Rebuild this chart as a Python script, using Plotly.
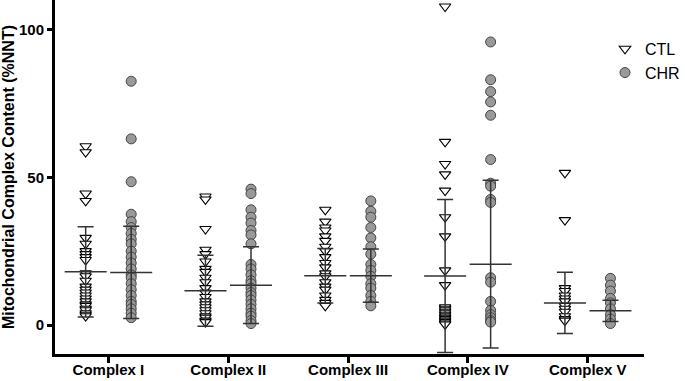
import plotly.graph_objects as go

categories = ["Complex I", "Complex II", "Complex III", "Complex IV", "Complex V"]

ctl_values = [
    [60.5, 58.5, 44.5, 42, 29.5, 27.5, 25, 24, 23, 22, 17.5, 16.5, 15, 13, 12, 11, 10, 9, 8, 7, 6.5, 5.5, 5, 4, 3.5, 3],
    [43.5, 42.5, 32.5, 25.5, 24, 21.5, 19, 18, 16, 14.5, 12.5, 11, 9.5, 8, 7, 6, 5, 4, 3, 2.5, 1.5, 1],
    [39, 35, 33, 32, 30, 28.5, 26.5, 25, 23, 21, 19.5, 17.5, 16.5, 14.5, 13, 12, 10, 8.5, 7.5, 6.5],
    [107.8, 62, 54.5, 51, 45.5, 36.5, 30, 18.5, 13.5, 6, 5.5, 5, 4.5, 4, 3.5, 3, 2.5, 2, 1.5, 1, 0.5, 0.2],
    [51.5, 35.5, 12.5, 11.5, 10, 9, 8, 6.5, 5.5, 4.5, 3, 2, 1.5],
]
chr_values = [
    [82.5, 63, 48.5, 37.5, 35, 33, 31, 29, 27.5, 25, 23, 21, 19, 17, 16, 14, 12, 10, 8, 7, 5.5, 4, 2.5],
    [46, 44.5, 39, 36.5, 34.5, 32, 30.5, 27.5, 20.5, 19, 17, 15, 14, 12.5, 11, 10, 8.5, 7, 5.5, 4, 3, 1.5, 0.5],
    [42, 38.5, 36.5, 33, 29.5, 26.5, 24, 20.5, 18.5, 16.5, 14, 12.5, 10, 8, 6.5],
    [95.8, 83, 79, 75.5, 71, 56, 48, 47, 42.5, 41.5, 16, 14.5, 8, 5, 3.5, 2.5, 1.5, 1],
    [15.8, 13.5, 11.5, 9, 7.5, 5.5, 3.5, 2, 0.5],
]

ctl_mean = [18.0, 11.6, 16.7, 16.6, 7.5]
ctl_sd = [15.3, 12.0, 9.2, 25.9, 10.4]
chr_mean = [17.8, 13.5, 16.7, 20.6, 4.8]
chr_sd = [15.6, 13.0, 9.0, 28.4, 3.6]

group_offset = 0.19
FONT = "Arial, Liberation Sans, sans-serif"

def xs_for(groups, off):
    xs, ys = [], []
    for i, vals in enumerate(groups):
        xs += [i + off] * len(vals)
        ys += vals
    return xs, ys

fig = go.Figure()

x1, y1 = xs_for(ctl_values, -group_offset)
fig.add_trace(go.Scatter(
    x=x1, y=y1, mode="markers", name="CTL", legendgroup="a",
    marker=dict(symbol="triangle-down", size=10, color="white",
                line=dict(color="black", width=1.1)),
    cliponaxis=False,
))
x2, y2 = xs_for(chr_values, group_offset)
fig.add_trace(go.Scatter(
    x=x2, y=y2, mode="markers", name="CHR", legendgroup="b",
    marker=dict(symbol="circle", size=10, color="#999999",
                line=dict(color="#444444", width=1)),
    cliponaxis=False,
))

for means, sds, off in [(ctl_mean, ctl_sd, -group_offset), (chr_mean, chr_sd, group_offset)]:
    fig.add_trace(go.Scatter(
        x=[i + off for i in range(len(categories))], y=means, mode="markers",
        showlegend=False, cliponaxis=False,
        marker=dict(symbol="line-ew", size=30, color="#333333",
                    line=dict(color="#333333", width=1.5)),
        error_y=dict(type="data", array=sds, visible=True, color="#333333",
                     thickness=1.5, width=8),
    ))

fig.update_layout(
    width=685, height=381,
    margin=dict(l=55, r=40, t=0, b=27),
    paper_bgcolor="white", plot_bgcolor="white",
    font=dict(family=FONT, color="black"),
    showlegend=True,
    legend=dict(x=0.934, y=0.91, xanchor="left", yanchor="top",
                font=dict(size=16, family=FONT), tracegroupgap=0,
                bgcolor="rgba(0,0,0,0)"),
    xaxis=dict(range=[-0.446, 4.47], tickmode="array",
               tickvals=list(range(len(categories))), ticktext=categories,
               showline=True, linewidth=3, linecolor="black",
               ticks="outside", ticklen=6, tickwidth=2.5, tickcolor="black",
               showgrid=False, zeroline=False, automargin=False,
               ticklabelstandoff=-6,
               tickfont=dict(size=15, family=FONT, weight="bold")),
    yaxis=dict(range=[-9.8, 110], tickvals=[0, 50, 100],
               showline=True, linewidth=3, linecolor="black",
               ticks="outside", ticklen=5, tickwidth=3, tickcolor="black",
               showgrid=False, zeroline=False, automargin=False,
               tickfont=dict(size=15, family=FONT, weight="bold"),
               title=dict(text="Mitochondrial Complex Content (%NNT)",
                          font=dict(size=16, family=FONT, weight="bold"),
                          standoff=4)),
)

fig.write_html("out.html")
